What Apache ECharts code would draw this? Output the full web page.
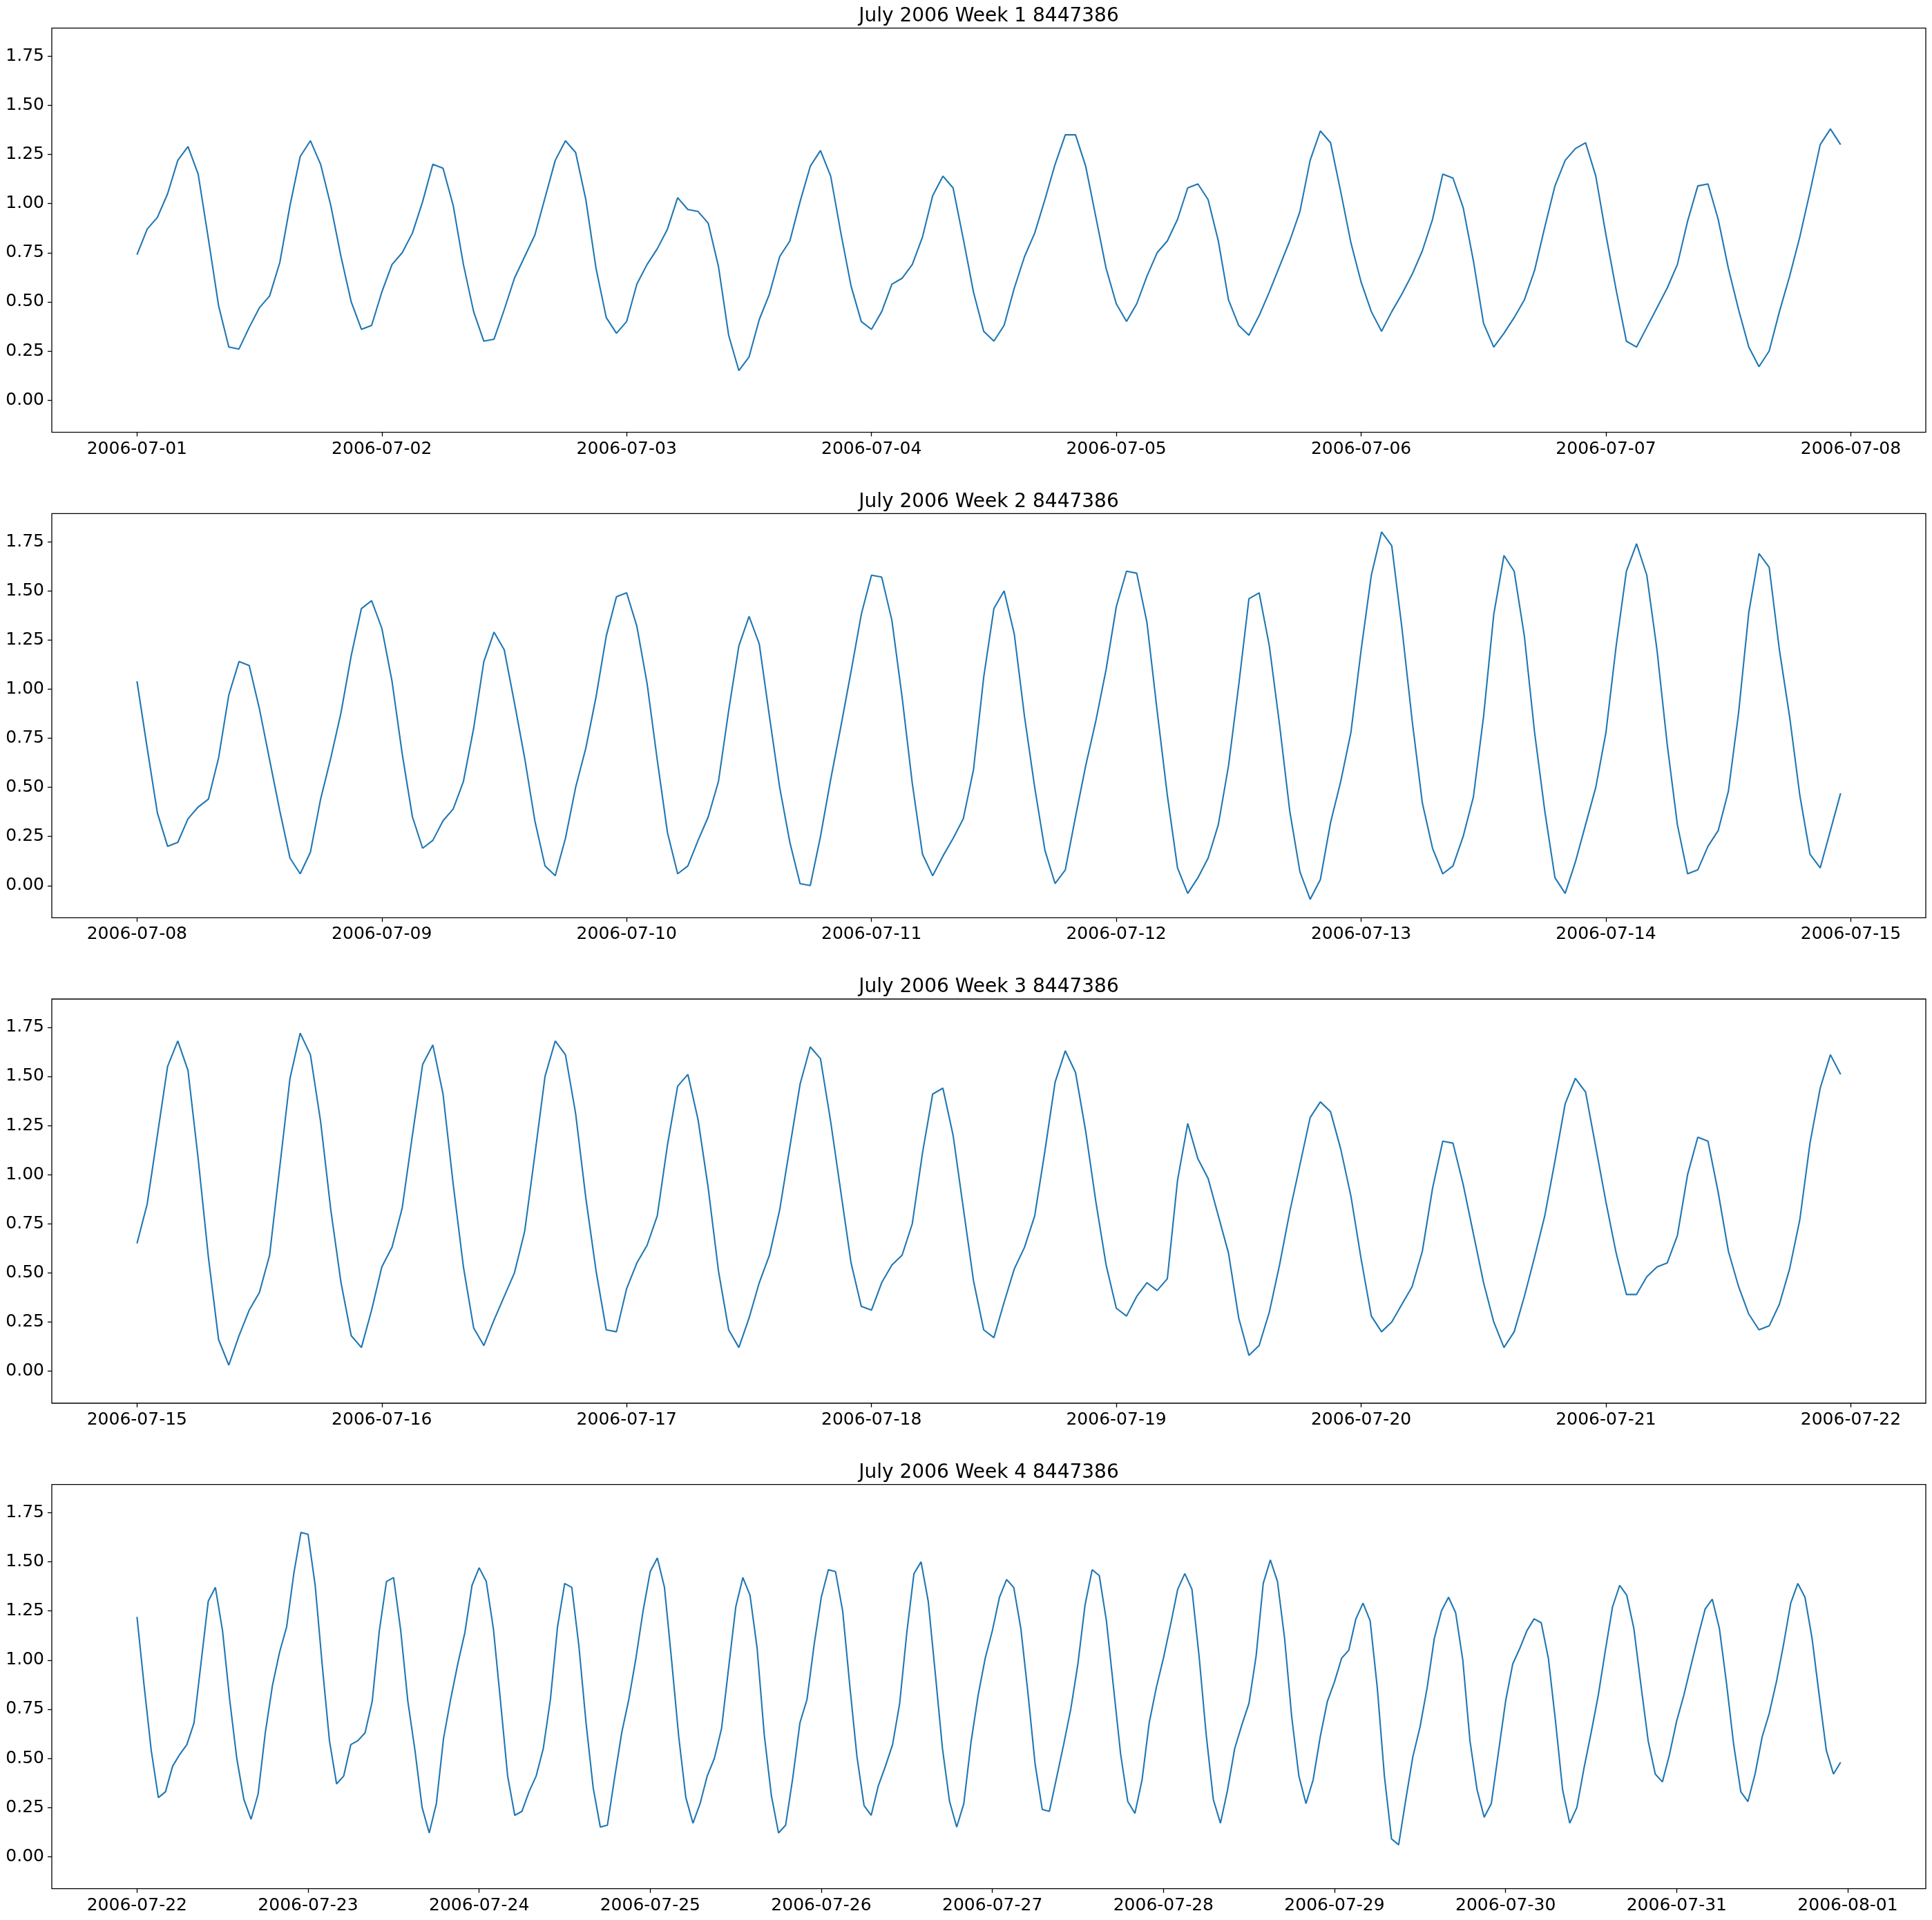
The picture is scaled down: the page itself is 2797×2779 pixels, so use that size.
<!DOCTYPE html>
<html>
<head>
<meta charset="utf-8">
<script src="https://cdn.jsdelivr.net/npm/echarts@6/dist/echarts.min.js"></script>
<style>
html,body{margin:0;padding:0;background:#fff;}
#chart{width:2797px;height:2779px;}
</style>
</head>
<body>
<div id="chart"></div>
<script>
// ---- data (hourly water level, 8447386) ----
const titles = [
  'July 2006 Week 1 8447386',
  'July 2006 Week 2 8447386',
  'July 2006 Week 3 8447386',
  'July 2006 Week 4 8447386'
];

const week1Labels = ['2006-07-01','2006-07-02','2006-07-03','2006-07-04','2006-07-05','2006-07-06','2006-07-07','2006-07-08'];
const week2Labels = ['2006-07-08','2006-07-09','2006-07-10','2006-07-11','2006-07-12','2006-07-13','2006-07-14','2006-07-15'];
const week3Labels = ['2006-07-15','2006-07-16','2006-07-17','2006-07-18','2006-07-19','2006-07-20','2006-07-21','2006-07-22'];
const week4Labels = ['2006-07-22','2006-07-23','2006-07-24','2006-07-25','2006-07-26','2006-07-27','2006-07-28','2006-07-29','2006-07-30','2006-07-31','2006-08-01'];

const yTicks = [0, 0.25, 0.5, 0.75, 1.0, 1.25, 1.5, 1.75];

const week1 = [
0.74,0.87,0.93,1.05,1.22,1.29,1.15,0.82,0.48,0.27,0.26,0.37,0.47,0.53,0.70,0.99,1.24,1.32,1.20,0.99,0.73,0.50,0.36,0.38,
0.55,0.69,0.75,0.85,1.01,1.20,1.18,0.99,0.69,0.45,0.30,0.31,0.46,0.62,0.73,0.84,1.03,1.22,1.32,1.26,1.02,0.67,0.42,0.34,
0.40,0.59,0.69,0.77,0.87,1.03,0.97,0.96,0.90,0.68,0.33,0.15,0.22,0.41,0.54,0.73,0.81,1.01,1.19,1.27,1.14,0.85,0.58,0.40,
0.36,0.45,0.59,0.62,0.69,0.83,1.04,1.14,1.08,0.82,0.55,0.35,0.30,0.38,0.57,0.73,0.85,1.02,1.20,1.35,1.35,1.19,0.93,0.67,
0.49,0.40,0.49,0.63,0.75,0.81,0.92,1.08,1.10,1.02,0.81,0.51,0.38,0.33,0.43,0.55,0.68,0.81,0.96,1.22,1.37,1.31,1.06,0.80,
0.60,0.45,0.35,0.45,0.54,0.64,0.76,0.92,1.15,1.13,0.98,0.71,0.39,0.27,0.34,0.42,0.51,0.66,0.88,1.09,1.22,1.28,1.31,1.14,
0.84,0.56,0.30,0.27,0.37,0.47,0.57,0.69,0.91,1.09,1.10,0.92,0.67,0.46,0.27,0.17,0.25,0.45,0.63,0.83,1.06,1.30,1.38,1.30
];

const week2 = [
1.04,0.70,0.37,0.20,0.22,0.34,0.40,0.44,0.65,0.97,1.14,1.12,0.90,0.64,0.38,0.14,0.06,0.17,0.44,0.65,0.88,1.17,1.41,1.45,
1.31,1.04,0.67,0.35,0.19,0.23,0.33,0.39,0.53,0.80,1.14,1.29,1.20,0.93,0.65,0.33,0.10,0.05,0.24,0.50,0.70,0.96,1.27,1.47,
1.49,1.32,1.03,0.64,0.27,0.06,0.10,0.23,0.35,0.53,0.89,1.22,1.37,1.23,0.86,0.50,0.22,0.01,0.00,0.25,0.54,0.81,1.09,1.38,
1.58,1.57,1.35,0.96,0.52,0.16,0.05,0.15,0.24,0.34,0.59,1.06,1.41,1.50,1.28,0.86,0.50,0.18,0.01,0.08,0.35,0.61,0.84,1.10,
1.42,1.60,1.59,1.34,0.89,0.46,0.09,-0.04,0.04,0.14,0.31,0.61,1.02,1.46,1.49,1.22,0.82,0.38,0.07,-0.07,0.03,0.32,0.53,0.78,
1.20,1.58,1.80,1.73,1.31,0.84,0.42,0.19,0.06,0.10,0.25,0.45,0.86,1.38,1.68,1.60,1.27,0.78,0.38,0.04,-0.04,0.12,0.31,0.50,
0.78,1.22,1.60,1.74,1.58,1.20,0.72,0.31,0.06,0.08,0.20,0.28,0.48,0.88,1.39,1.69,1.62,1.20,0.86,0.46,0.16,0.09,0.28,0.47
];

const week3 = [
0.65,0.85,1.20,1.55,1.68,1.53,1.08,0.58,0.16,0.03,0.18,0.31,0.40,0.59,1.04,1.49,1.72,1.61,1.27,0.82,0.45,0.18,0.12,0.31,
0.53,0.63,0.83,1.20,1.56,1.66,1.41,0.95,0.53,0.22,0.13,0.26,0.38,0.50,0.71,1.10,1.50,1.68,1.61,1.31,0.88,0.51,0.21,0.20,
0.42,0.55,0.64,0.79,1.15,1.45,1.51,1.28,0.93,0.51,0.21,0.12,0.27,0.45,0.59,0.82,1.14,1.46,1.65,1.59,1.27,0.91,0.55,0.33,
0.31,0.45,0.54,0.59,0.75,1.11,1.41,1.44,1.20,0.83,0.46,0.21,0.17,0.35,0.52,0.63,0.79,1.12,1.47,1.63,1.52,1.22,0.86,0.54,
0.32,0.28,0.38,0.45,0.41,0.47,0.97,1.26,1.08,0.98,0.79,0.60,0.27,0.08,0.13,0.30,0.54,0.81,1.05,1.29,1.37,1.32,1.13,0.89,
0.57,0.28,0.20,0.25,0.34,0.43,0.61,0.93,1.17,1.16,0.95,0.70,0.45,0.25,0.12,0.20,0.38,0.58,0.79,1.07,1.36,1.49,1.42,1.14,
0.86,0.60,0.39,0.39,0.48,0.53,0.55,0.69,1.00,1.19,1.17,0.91,0.61,0.43,0.29,0.21,0.23,0.34,0.52,0.77,1.16,1.44,1.61,1.51
];

const week4 = [
1.22,0.87,0.54,0.30,0.33,0.46,0.52,0.57,0.68,0.99,1.30,1.37,1.15,0.80,0.50,0.29,0.19,0.32,0.63,0.87,1.04,1.17,1.44,1.65,
1.64,1.38,0.97,0.59,0.37,0.41,0.57,0.59,0.63,0.79,1.15,1.40,1.42,1.15,0.79,0.54,0.25,0.12,0.27,0.60,0.80,0.98,1.14,1.38,
1.47,1.40,1.16,0.79,0.41,0.21,0.23,0.33,0.41,0.55,0.80,1.17,1.39,1.37,1.07,0.68,0.35,0.15,0.16,0.40,0.63,0.80,1.01,1.25,
1.45,1.52,1.37,1.00,0.61,0.30,0.17,0.27,0.41,0.50,0.65,0.96,1.27,1.42,1.33,1.06,0.62,0.31,0.12,0.16,0.40,0.68,0.80,1.08,
1.32,1.46,1.45,1.25,0.87,0.51,0.26,0.21,0.36,0.46,0.57,0.78,1.14,1.44,1.50,1.30,0.93,0.55,0.28,0.15,0.27,0.58,0.82,1.01,
1.15,1.32,1.41,1.37,1.16,0.83,0.47,0.24,0.23,0.40,0.57,0.75,0.98,1.28,1.46,1.43,1.20,0.86,0.52,0.28,0.22,0.39,0.68,0.86,
1.01,1.18,1.36,1.44,1.36,1.02,0.62,0.29,0.17,0.34,0.55,0.67,0.78,1.02,1.39,1.51,1.40,1.11,0.71,0.41,0.27,0.39,0.61,0.79,
0.89,1.01,1.05,1.21,1.29,1.20,0.86,0.41,0.09,0.06,0.29,0.51,0.66,0.86,1.11,1.25,1.32,1.24,1.00,0.59,0.34,0.20,0.27,0.53,
0.79,0.98,1.06,1.15,1.21,1.19,1.01,0.69,0.34,0.17,0.25,0.45,0.63,0.82,1.05,1.27,1.38,1.33,1.16,0.87,0.59,0.42,0.38,0.52,
0.69,0.82,0.97,1.12,1.26,1.31,1.16,0.88,0.57,0.33,0.28,0.42,0.61,0.73,0.89,1.08,1.29,1.39,1.32,1.11,0.82,0.54,0.42,0.48
];

// ---- chart build ----
const weeks = [week1, week2, week3, week4];
const labelSets = [week1Labels, week2Labels, week3Labels, week4Labels];

const FONT = 'DejaVu Sans';
const gridLeft = 75, gridWidth = 2713, gridHeight = 585;
const gridTops = [40.6, 743.3, 1446, 2148.7];

const allVals = [].concat(week1, week2, week3, week4);
const vMin = Math.min.apply(null, allVals), vMax = Math.max.apply(null, allVals);
const yPad = (vMax - vMin) * 0.05;

const option = {
  animation: false,
  backgroundColor: '#fff',
  title: [], grid: [], xAxis: [], yAxis: [], series: []
};

weeks.forEach((data, k) => {
  const labels = labelSets[k];
  const n = data.length;
  const xPad = (n - 1) * 0.05;
  const tickHours = labels.map((_, i) => i * 24);
  option.title.push({
    text: titles[k],
    left: gridLeft + gridWidth / 2,
    top: gridTops[k] - 33,
    textAlign: 'center',
    padding: 0,
    textStyle: {fontFamily: FONT, fontSize: 28, fontWeight: 'normal', color: '#000', lineHeight: 32}
  });
  option.grid.push({
    left: gridLeft, top: gridTops[k], width: gridWidth, height: gridHeight,
    show: true, borderColor: '#000', borderWidth: 1.3, backgroundColor: '#fff'
  });
  option.xAxis.push({
    type: 'value', gridIndex: k, position: 'bottom',
    min: -xPad, max: (n - 1) + xPad,
    splitLine: {show: false},
    axisLine: {show: false, onZero: false},
    axisTick: {show: true, customValues: tickHours, length: 6, inside: false, lineStyle: {color: '#000', width: 1.3}},
    axisLabel: {
      customValues: tickHours, margin: 12,
      fontFamily: FONT, fontSize: 25, color: '#000',
      formatter: (v) => labels[Math.round(v / 24)] || ''
    }
  });
  option.yAxis.push({
    type: 'value', gridIndex: k, position: 'left',
    min: vMin - yPad, max: vMax + yPad,
    splitLine: {show: false},
    axisLine: {show: false, onZero: false},
    axisTick: {show: true, customValues: yTicks, length: 6, lineStyle: {color: '#000', width: 1.3}},
    axisLabel: {
      customValues: yTicks, margin: 11,
      fontFamily: FONT, fontSize: 25, color: '#000',
      formatter: (v) => v.toFixed(2)
    }
  });
  option.series.push({
    type: 'line', xAxisIndex: k, yAxisIndex: k,
    data: data.map((v, i) => [i, v]),
    showSymbol: false, symbol: 'none', smooth: false,
    lineStyle: {color: '#1f77b4', width: 2.1},
    z: 3
  });
});

const chart = echarts.init(document.getElementById('chart'), null, {renderer: 'canvas', width: 2797, height: 2779});
chart.setOption(option);
</script>
</body>
</html>
